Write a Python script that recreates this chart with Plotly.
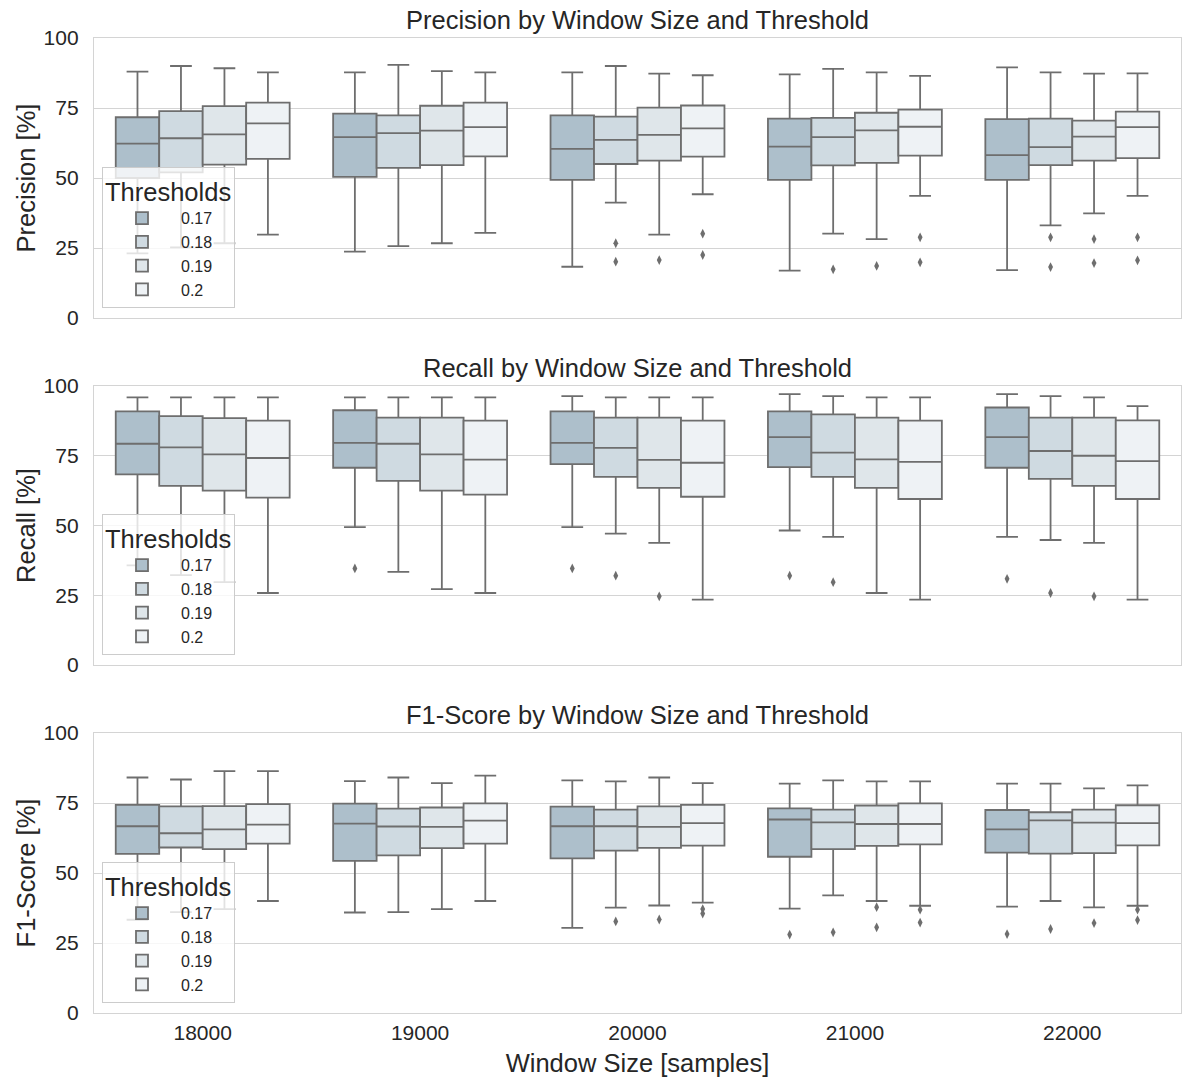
import plotly.graph_objects as go
from plotly.subplots import make_subplots

# ---------------- data ----------------
WINDOW_SIZES = ["18000", "19000", "20000", "21000", "22000"]
THRESHOLDS = ["0.17", "0.18", "0.19", "0.2"]

# rows = thresholds (0.17, 0.18, 0.19, 0.2), columns = window sizes
PREC_LO = [[23.1, 23.7, 18.3, 16.9, 17.1],
           [25.2, 25.7, 41.2, 30.1, 33.1],
           [26.7, 26.7, 29.8, 28.2, 37.4],
           [29.8, 30.4, 44.2, 43.6, 43.6]]
PREC_Q1 = [[50.0, 50.4, 49.3, 49.3, 49.3],
           [52.0, 53.6, 55.0, 54.5, 54.6],
           [54.8, 54.6, 56.2, 55.4, 56.2],
           [56.8, 57.7, 57.6, 58.0, 57.1]]
PREC_MED = [[62.3, 64.6, 60.4, 61.2, 58.2],
            [64.2, 66.0, 63.6, 64.6, 61.0],
            [65.6, 66.9, 65.4, 67.0, 64.8],
            [69.5, 68.2, 67.7, 68.3, 68.2]]
PREC_Q3 = [[71.7, 73.0, 72.4, 71.2, 71.0],
           [73.9, 72.4, 71.9, 71.5, 71.2],
           [75.7, 75.8, 75.1, 73.3, 70.5],
           [76.9, 76.9, 75.9, 74.4, 73.7]]
PREC_HI = [[88.0, 87.7, 87.7, 87.0, 89.5],
           [90.0, 90.4, 90.0, 89.0, 87.7],
           [89.2, 88.2, 87.3, 87.7, 87.3],
           [87.7, 87.7, 86.7, 86.5, 87.4]]
PREC_OUT = [[[], [], [], [], []],
            [[], [], [26.7, 20.1], [17.4], [28.8, 18.2]],
            [[], [], [20.7], [18.6], [28.2, 19.6]],
            [[], [], [30.1, 22.5], [28.8, 19.9], [28.8, 20.6]]]

REC_LO = [[35.7, 49.4, 49.4, 48.2, 45.9],
          [32.2, 33.4, 47.1, 45.9, 44.8],
          [29.7, 27.2, 43.8, 25.8, 43.8],
          [25.8, 25.8, 23.4, 23.4, 23.4]]
REC_Q1 = [[68.3, 70.7, 72.0, 70.9, 70.7],
          [64.2, 66.0, 67.4, 67.4, 66.7],
          [62.5, 62.5, 63.5, 63.5, 64.2],
          [60.0, 61.1, 60.3, 59.5, 59.5]]
REC_MED = [[79.3, 79.6, 79.6, 81.7, 81.7],
           [78.0, 79.3, 77.8, 76.1, 76.7],
           [75.5, 75.5, 73.5, 73.7, 75.0],
           [74.2, 73.6, 72.5, 72.8, 73.1]]
REC_Q3 = [[90.9, 91.3, 90.9, 90.9, 92.3],
          [89.2, 88.7, 88.7, 89.8, 88.7],
          [88.5, 88.7, 88.7, 88.7, 88.7],
          [87.6, 87.6, 87.6, 87.6, 87.7]]
REC_HI = [[95.9, 95.9, 96.4, 97.1, 97.1],
          [95.9, 95.9, 95.9, 96.4, 96.4],
          [95.9, 95.9, 95.9, 95.9, 95.9],
          [95.9, 95.9, 95.9, 95.9, 92.8]]
REC_OUT = [[[], [34.6], [34.6], [32.0], [30.9]],
           [[], [], [32.0], [29.7], [25.8]],
           [[], [], [24.6], [], [24.6]],
           [[], [], [], [], []]]

F1_LO = [[33.3, 35.9, 30.4, 37.3, 38.0],
         [36.0, 36.0, 37.6, 42.0, 40.0],
         [37.1, 37.1, 38.4, 40.0, 37.7],
         [40.0, 40.0, 39.4, 38.3, 38.3]]
F1_Q1 = [[56.8, 54.3, 55.2, 55.8, 57.3],
         [59.1, 56.3, 58.0, 58.5, 56.9],
         [58.5, 58.9, 59.0, 59.7, 57.1],
         [60.5, 60.5, 59.8, 60.2, 59.9]]
F1_MED = [[66.7, 67.6, 66.7, 69.1, 65.6],
          [64.2, 66.6, 66.7, 68.1, 68.8],
          [65.6, 66.5, 66.5, 67.5, 68.0],
          [67.3, 68.7, 67.8, 67.5, 67.8]]
F1_Q3 = [[74.3, 74.8, 73.7, 73.1, 72.5],
         [73.8, 73.0, 72.6, 72.6, 71.7],
         [73.9, 73.4, 73.8, 74.1, 72.6],
         [74.6, 74.9, 74.3, 74.9, 74.2]]
F1_HI = [[84.1, 82.8, 83.1, 81.9, 81.9],
         [83.4, 84.1, 82.7, 83.1, 81.9],
         [86.4, 82.1, 84.1, 82.7, 80.2],
         [86.4, 84.8, 82.1, 82.7, 81.3]]
F1_OUT = [[[], [], [], [28.0], [28.2]],
          [[], [], [32.7], [28.8], [30.0]],
          [[], [], [33.4], [37.8, 30.6], [32.1]],
          [[], [], [37.1, 35.5], [36.9, 32.3], [36.9, 33.2]]]

PANEL_TITLES = ["Precision by Window Size and Threshold",
                "Recall by Window Size and Threshold",
                "F1-Score by Window Size and Threshold"]
Y_TITLES = ["Precision [%]", "Recall [%]", "F1-Score [%]"]
X_TITLE = "Window Size [samples]"
LEGEND_TITLE = "Thresholds"
Y_TICKS = [0, 25, 50, 75, 100]

# ---------------- styling ----------------
FILL_COLORS = ["#adbfcb", "#cfdae1", "#dfe6ea", "#eef2f5"]
LINE_COLOR = "#6e6e6e"
TEXT_COLOR = "#262626"
GRID_COLOR = "#d4d4d4"
FONT = "Liberation Sans, Arial, sans-serif"
BIG = 25.5

W, H = 1183, 1079
ML, MR, MT, MB = 94, 2, 38, 66
PH = H - MT - MB
panel_px = [(38, 318), (386, 665), (733, 1013)]
domains = [[(H - MB - b) / PH, (H - MB - t) / PH] for t, b in panel_px]

fig = make_subplots(rows=3, cols=1, shared_xaxes=True,
                    subplot_titles=PANEL_TITLES, vertical_spacing=0.07)

metrics = [
    (PREC_LO, PREC_Q1, PREC_MED, PREC_Q3, PREC_HI, PREC_OUT),
    (REC_LO, REC_Q1, REC_MED, REC_Q3, REC_HI, REC_OUT),
    (F1_LO, F1_Q1, F1_MED, F1_Q3, F1_HI, F1_OUT),
]

legend_names = ["legend", "legend2", "legend3"]

for r, (lo, q1, med, q3, hi, out) in enumerate(metrics):
    for t, thr in enumerate(THRESHOLDS):
        # observed points per box: whisker ends + outliers
        pts = [[lo[t][i], hi[t][i]] + out[t][i] for i in range(len(WINDOW_SIZES))]
        fig.add_trace(go.Box(
            x=WINDOW_SIZES,
            y=pts,
            q1=q1[t], median=med[t], q3=q3[t],
            lowerfence=lo[t], upperfence=hi[t],
            orientation="v",
            boxpoints="outliers", pointpos=0, jitter=0,
            name=thr, offsetgroup=thr, legend=legend_names[r],
            fillcolor=FILL_COLORS[t],
            line=dict(color=LINE_COLOR, width=1.8),
            marker=dict(symbol="diamond-tall", size=7, color=LINE_COLOR,
                        line=dict(width=0)),
            whiskerwidth=0.5,
        ), row=r + 1, col=1)

fig.update_layout(
    width=W, height=H,
    margin=dict(l=ML, r=MR, t=MT, b=MB),
    template="none",
    paper_bgcolor="white", plot_bgcolor="white",
    font=dict(family=FONT, color=TEXT_COLOR, size=20),
    boxmode="group", boxgap=0.2, boxgroupgap=0.0,
)

for r in range(3):
    d = domains[r]
    sfx = "" if r == 0 else str(r + 1)
    fig.layout["yaxis" + sfx].update(
        domain=d, range=[0, 100], tickvals=Y_TICKS,
        showgrid=True, gridcolor=GRID_COLOR, gridwidth=1,
        showline=True, mirror=True, linecolor=GRID_COLOR, linewidth=1.3,
        zeroline=False, ticks="outside", ticklen=10, tickcolor="rgba(0,0,0,0)",
        tickfont=dict(size=21, color=TEXT_COLOR),
        title=dict(text=Y_TITLES[r], font=dict(size=BIG, color=TEXT_COLOR), standoff=0),
        automargin=False,
    )
    fig.layout["xaxis" + sfx].update(
        type="category", categoryorder="array", categoryarray=WINDOW_SIZES,
        range=[-0.5, 4.5], showgrid=False,
        showline=True, mirror=True, linecolor=GRID_COLOR, linewidth=1.3,
        zeroline=False, ticks="outside", ticklen=1, tickcolor="rgba(0,0,0,0)",
        tickfont=dict(size=21, color=TEXT_COLOR),
        showticklabels=(r == 2), automargin=False,
    )
    leg = dict(
        title=dict(text=LEGEND_TITLE, font=dict(size=BIG, color=TEXT_COLOR)),
        font=dict(size=16, color=TEXT_COLOR),
        x=8 / (W - ML - MR), xanchor="left",
        y=d[0] + 10 / PH, yanchor="bottom",
        bgcolor="rgba(255,255,255,0.8)", bordercolor="#cccccc", borderwidth=1,
        tracegroupgap=0, itemwidth=68,
    )
    fig.layout[legend_names[r]] = leg

fig.layout.xaxis3.title = dict(text=X_TITLE, font=dict(size=BIG, color=TEXT_COLOR), standoff=10)

for i, ann in enumerate(fig.layout.annotations):
    ann.update(y=domains[i][1], font=dict(size=BIG, color=TEXT_COLOR), yshift=2)

fig.write_html(
    "out.html",
    config={"displayModeBar": False},
    post_script="document.body.style.margin='0';document.body.style.overflow='hidden';",
)
